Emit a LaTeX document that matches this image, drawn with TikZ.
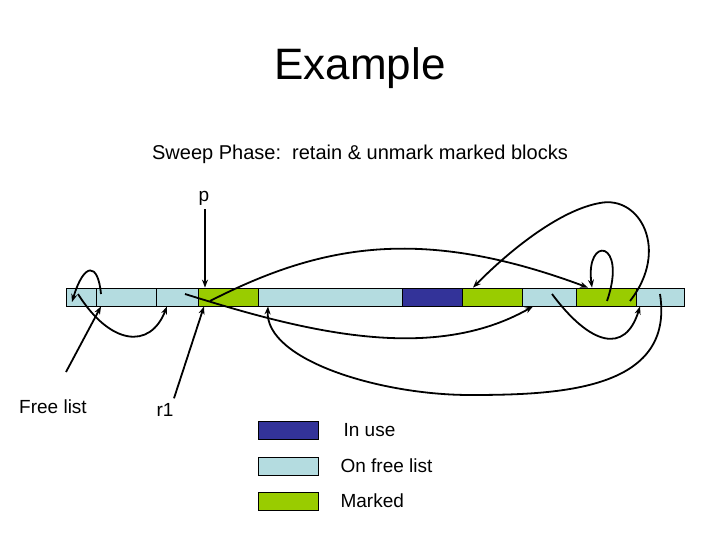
\documentclass[tikz,border=0pt]{standalone}
\usepackage{fontspec}
\setmainfont{Liberation Sans}
\usetikzlibrary{arrows.meta,positioning}
\definecolor{freecol}{HTML}{B4DCE0}
\definecolor{usecol}{HTML}{333399}
\definecolor{markcol}{HTML}{99CC00}
\tikzset{
  cell/.style={draw=black, line width=0.8pt, inner sep=0pt, minimum height=18pt},
  ptr/.style={line width=1.8pt, -{Stealth[length=8pt,width=6pt]}},
  lbl/.style={font=\fontsize{19}{22}\selectfont, inner sep=0pt}
}
\begin{document}
\begin{tikzpicture}[x=1pt,y=-1pt]
\useasboundingbox (0,0) rectangle (720,540);
% titre
\node (title) at (360,68) {\fontsize{44}{50}\selectfont Example};
\node (sub) at (360,154) {\fontsize{20}{24}\selectfont Sweep Phase:\ \ retain \& unmark marked blocks};
% le tas
\foreach \a/\b/\c [count=\i] in {66/96/freecol, 96/156/freecol, 156/198/freecol, 198/258/markcol,
  258/402/freecol, 402/462/usecol, 462/522/markcol, 522/576/freecol, 576/636/markcol, 636/684/freecol}
  \node [cell, fill=\c, minimum width=\b pt-\a pt] (c\i) at ({(\a+\b)/2},297) {};
% etiquettes
\node [lbl] (p) at (204,198) {p};
\node [lbl] (free) at (53,407) {Free list};
\node [lbl] (r1) at (165,410) {r1};
\draw [ptr] (p.south) ++(1,4) -- ([xshift=-23pt]c4.north);
\draw [ptr] (66,372) -- ([xshift=-25pt]c2.south);
\draw [ptr] (r1.north) ++(9,-5) -- ([xshift=-24pt]c4.south);
% pointeurs
\draw [ptr] ([xshift=-25pt,yshift=3pt]c2.center) .. controls (98,262) and (84,262) .. ([xshift=-9pt,yshift=-5pt]c1.center);
\draw [ptr] ([xshift=-3pt,yshift=3pt]c1.center) .. controls (110,345) and (150,350) .. ([xshift=-10pt]c3.south);
\draw [ptr] ([xshift=-18pt,yshift=-4pt]c4.center) .. controls (320,245) and (420,225) .. ([xshift=-18pt]c9.north);
\draw [ptr] ([xshift=24pt,yshift=-4pt]c9.center) .. controls (670,250) and (640,195) .. (600,203)
  .. controls (560,210) and (510,250) .. ([xshift=-19pt]c7.north);
\draw [ptr] ([xshift=1pt,yshift=-4pt]c9.center) .. controls (628,240) and (585,235) .. ([xshift=-14pt]c9.north);
\draw [ptr] ([xshift=-43pt,yshift=3pt]c4.center) .. controls (300,330) and (430,365) .. ([xshift=-16pt]c8.north |- c8.south);
\draw [ptr] ([xshift=3pt,yshift=3pt]c8.center) .. controls (590,345) and (625,355) .. ([xshift=-20pt]c10.south);
\draw [ptr] ([xshift=0pt,yshift=3pt]c10.center) .. controls (675,390) and (560,395) .. (470,395)
  .. controls (380,395) and (265,360) .. ([xshift=-62pt]c5.south);
% legende
\node [cell, fill=usecol, minimum width=60pt] (kuse) at (288,430) {};
\node [cell, fill=freecol, minimum width=60pt] (kfree) at (288,466) {};
\node [cell, fill=markcol, minimum width=60pt] (kmark) at (288,501) {};
\node [lbl, right=25pt of kuse] {In use};
\node [lbl, right=22pt of kfree] {On free list};
\node [lbl, right=22pt of kmark] {Marked};
\end{tikzpicture}
\end{document}
